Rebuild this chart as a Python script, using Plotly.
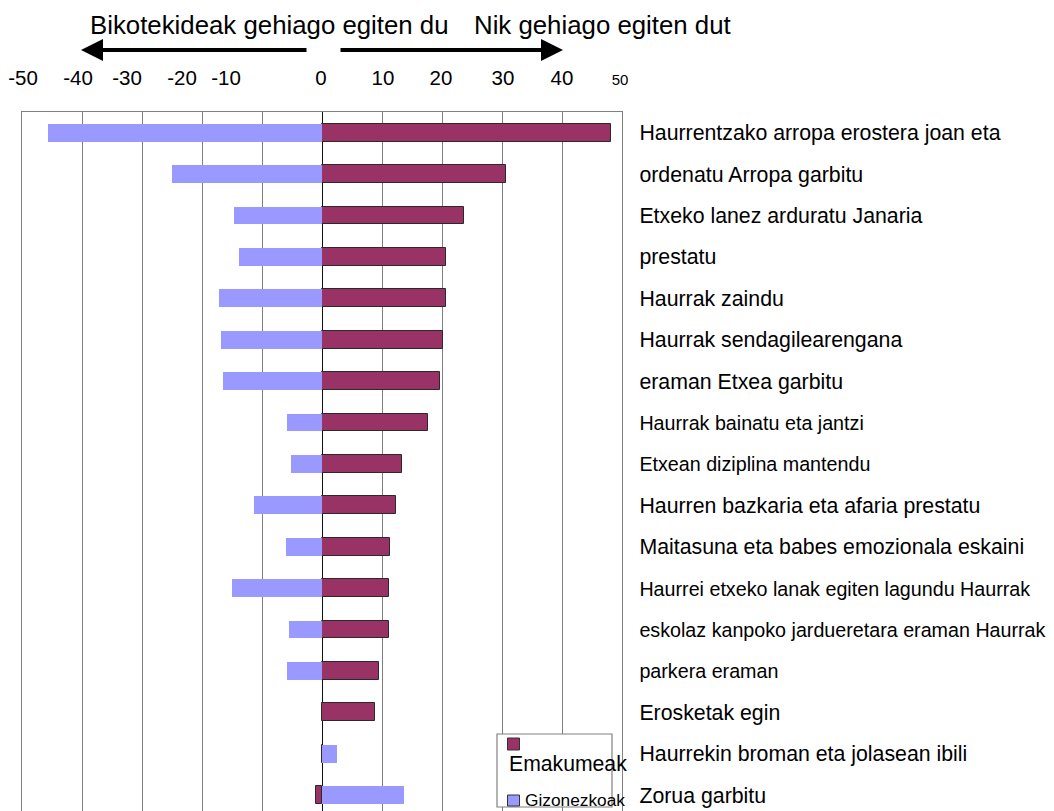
import plotly.graph_objects as go

# ---------------- data ----------------
rows = [
    "Haurrentzako arropa erostera joan eta",
    "ordenatu Arropa garbitu",
    "Etxeko lanez arduratu Janaria",
    "prestatu",
    "Haurrak zaindu",
    "Haurrak sendagilearengana",
    "eraman Etxea garbitu",
    "Haurrak bainatu eta jantzi",
    "Etxean diziplina mantendu",
    "Haurren bazkaria eta afaria prestatu",
    "Maitasuna eta babes emozionala eskaini",
    "Haurrei etxeko lanak egiten lagundu Haurrak",
    "eskolaz kanpoko jardueretara eraman Haurrak",
    "parkera eraman",
    "Erosketak egin",
    "Haurrekin broman eta jolasean ibili",
    "Zorua garbitu",
]
women = [48.1, 30.6, 23.7, 20.6, 20.6, 20.2, 19.6, 17.7, 13.3, 12.3, 11.4, 11.1, 11.1, 9.5, 8.9, 0.0, -1.0]
men = [-45.6, -25.0, -14.7, -13.9, -17.2, -16.9, -16.5, -5.8, -5.1, -11.4, -6.0, -15.0, -5.5, -5.8, 0.0, 2.5, 13.6]
series_names = ["Emakumeak", "Gizonezkoak"]
top_tick_labels = ["-50", "-40", "-30", "-20", "-10", "0", "10", "20", "30", "40", "50"]
grid_ticks = [-50, -40, -30, -20, -10, 0, 10, 20, 30, 40, 50]
left_caption = "Bikotekideak gehiago egiten du"
right_caption = "Nik gehiago egiten dut"

# ---------------- layout constants ----------------
W, H = 1054, 811
PL, PR, PT, PB = 22, 622, 112, 811          # plot area in pixels
FONT = "Liberation Sans, Arial, sans-serif"
WOMEN_COLOR = "#993366"
MEN_COLOR = "#9999FF"
small_rows = {7, 8, 11, 12, 13}             # rows printed in slightly smaller type
top_label_px = [23, 78, 127, 182, 226, 321, 383, 441, 503, 562, 620]


def px_x(px):
    return (px - PL) / (PR - PL)


def px_y(py):
    return (PB - py) / (PB - PT)


def px_to_val(px):
    return -50 + (px - PL) / (PR - PL) * 100


row_text = [
    (f'<span style="font-size:19.7px">{r}</span>' if i in small_rows else r)
    for i, r in enumerate(rows)
]
top_text = [
    (f'<span style="font-size:15px">{t}</span>' if t == "50" else t)
    for t in top_tick_labels
]

fig = go.Figure()
fig.add_trace(go.Bar(
    y=rows, x=women, orientation="h", name=series_names[0],
    marker=dict(color=WOMEN_COLOR, line=dict(color="#2a2a2a", width=1)),
    width=0.43, showlegend=False,
))
fig.add_trace(go.Bar(
    y=rows, x=men, orientation="h", name=series_names[1],
    marker=dict(color=MEN_COLOR, line=dict(color=MEN_COLOR, width=0)),
    width=0.43, showlegend=False,
))
# invisible trace to carry the top axis
fig.add_trace(go.Scatter(x=[None], y=[None], xaxis="x2", yaxis="y",
                         showlegend=False, hoverinfo="skip"))

fig.update_layout(
    template="none",
    width=W, height=H,
    margin=dict(l=PL, r=W - PR, t=PT, b=H - PB, pad=0),
    paper_bgcolor="white", plot_bgcolor="white",
    font=dict(family=FONT, size=21.3, color="black"),
    barmode="overlay",
    bargap=0,
    xaxis=dict(
        range=[-50, 50], tickvals=grid_ticks, showticklabels=False,
        ticks="", showgrid=True, gridcolor="#808080", gridwidth=1.3,
        zeroline=True, zerolinecolor="#111111", zerolinewidth=1,
        showline=False, automargin=False, fixedrange=True,
    ),
    xaxis2=dict(
        range=[-50, 50], overlaying="x", side="top", anchor="y",
        tickvals=[px_to_val(p) for p in top_label_px], ticktext=top_text,
        ticks="", showgrid=False, zeroline=False,
        showline=True, linecolor="#808080", linewidth=1.3,
        tickfont=dict(family=FONT, size=20.5, color="black"),
        ticklabelstandoff=18, automargin=False, fixedrange=True,
    ),
    yaxis=dict(
        type="category", categoryorder="array", categoryarray=rows,
        range=[(PB - PT) / 41.4 - 0.5, -0.5],
        side="right", tickvals=rows, ticktext=row_text,
        ticks="", showgrid=False, zeroline=False,
        showline=True, mirror=True, linecolor="#808080", linewidth=1.3,
        tickfont=dict(family=FONT, size=21.3, color="black"),
        ticklabelstandoff=12, automargin=False, fixedrange=True,
    ),
)

annotations = [
    dict(xref="paper", yref="paper", x=px_x(88), y=px_y(25), xanchor="left",
         yanchor="middle", text=left_caption, showarrow=False,
         font=dict(family=FONT, size=25.8, color="black")),
    dict(xref="paper", yref="paper", x=px_x(472), y=px_y(25), xanchor="left",
         yanchor="middle", text=right_caption, showarrow=False,
         font=dict(family=FONT, size=25.8, color="black")),
    # arrows
    dict(xref="paper", yref="paper", x=px_x(81), y=px_y(50), ax=227, ay=0,
         axref="pixel", ayref="pixel", text="", showarrow=True,
         arrowhead=2, arrowsize=1.1, arrowwidth=4, arrowcolor="black"),
    dict(xref="paper", yref="paper", x=px_x(563), y=px_y(50), ax=-224, ay=0,
         axref="pixel", ayref="pixel", text="", showarrow=True,
         arrowhead=2, arrowsize=1.1, arrowwidth=4, arrowcolor="black"),
    # legend texts
    dict(xref="paper", yref="paper", x=px_x(507), y=px_y(763), xanchor="left",
         yanchor="middle", text=series_names[0], showarrow=False,
         font=dict(family=FONT, size=21.2, color="black")),
    dict(xref="paper", yref="paper", x=px_x(523), y=px_y(800), xanchor="left",
         yanchor="middle", text=series_names[1], showarrow=False,
         font=dict(family=FONT, size=17.3, color="black")),
]

shapes = [
    # legend box
    dict(type="rect", xref="paper", yref="paper", layer="above",
         x0=px_x(497), x1=px_x(612), y0=px_y(807), y1=px_y(734),
         fillcolor="white", line=dict(color="#808080", width=1.2)),
    dict(type="rect", xref="paper", yref="paper", layer="above",
         x0=px_x(507.5), x1=px_x(519.5), y0=px_y(750), y1=px_y(738),
         fillcolor=WOMEN_COLOR, line=dict(color="#333333", width=1)),
    dict(type="rect", xref="paper", yref="paper", layer="above",
         x0=px_x(507.5), x1=px_x(519.5), y0=px_y(806), y1=px_y(795),
         fillcolor=MEN_COLOR, line=dict(color="#333333", width=1)),
]

fig.update_layout(annotations=annotations, shapes=shapes)

fig.write_html(
    "out.html",
    config={"displayModeBar": False},
    post_script="document.body.style.margin='0';document.body.style.overflow='hidden';",
)
